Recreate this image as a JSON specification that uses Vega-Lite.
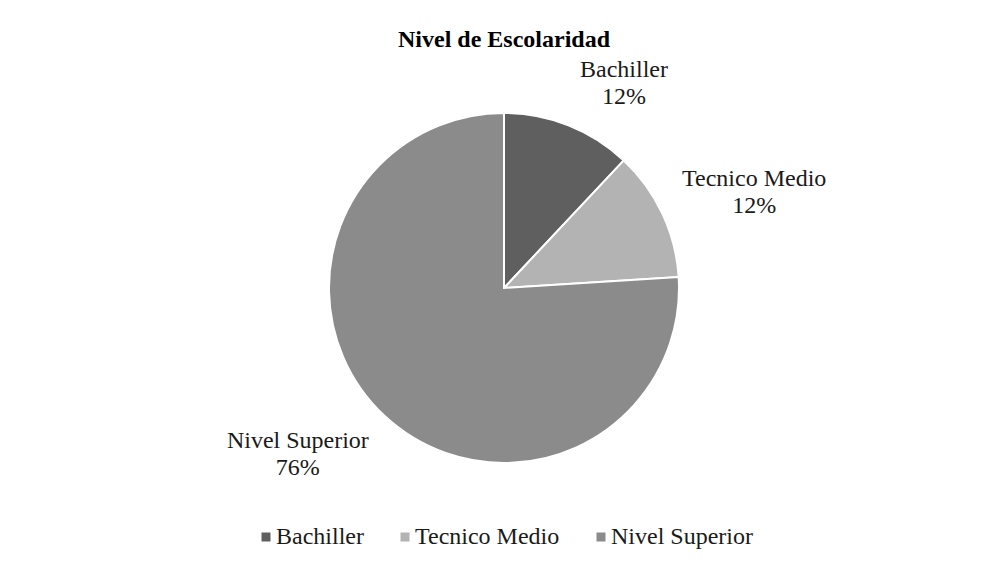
{
  "$schema": "https://vega.github.io/schema/vega-lite/v6.json",
  "width": 966,
  "height": 550,
  "autosize": {"type": "none"},
  "padding": {"left": 21, "top": 13, "right": 0, "bottom": 0},
  "background": "white",
  "view": {"stroke": null},
  "title": {
    "text": "Nivel de Escolaridad",
    "font": "Liberation Serif",
    "fontSize": 24,
    "fontWeight": "bold",
    "color": "#000000",
    "anchor": "middle",
    "offset": -39
  },
  "data": {
    "values": [
      {"nivel": "Bachiller", "pct": 12, "orden": 1},
      {"nivel": "Tecnico Medio", "pct": 12, "orden": 2},
      {"nivel": "Nivel Superior", "pct": 76, "orden": 3}
    ]
  },
  "transform": [
    {"calculate": "datum.nivel + '\\n' + datum.pct + '%'", "as": "etiqueta"}
  ],
  "encoding": {
    "theta": {"field": "pct", "type": "quantitative", "stack": true},
    "order": {"field": "orden", "type": "quantitative"}
  },
  "layer": [
    {
      "mark": {"type": "arc", "outerRadius": 175, "stroke": "white", "strokeWidth": 2},
      "encoding": {
        "color": {
          "field": "nivel",
          "type": "nominal",
          "scale": {
            "domain": ["Bachiller", "Tecnico Medio", "Nivel Superior"],
            "range": ["#5f5f5f", "#b3b3b3", "#8b8b8b"]
          },
          "legend": {
            "orient": "none",
            "legendX": 233,
            "legendY": 512,
            "direction": "horizontal",
            "title": null,
            "symbolType": "square",
            "symbolSize": 81,
            "symbolStrokeWidth": 0,
            "labelFont": "Liberation Serif",
            "labelFontSize": 24,
            "labelColor": "#1a1a1a",
            "labelOffset": -2,
            "columnPadding": 29,
            "labelLimit": 300
          }
        }
      }
    },
    {
      "mark": {
        "type": "text",
        "radius": 250,
        "font": "Liberation Serif",
        "fontSize": 24,
        "color": "#1a1a1a",
        "lineBreak": "\n",
        "lineHeight": 27,
        "align": "center",
        "baseline": "middle",
        "dx": {"expr": "datum.nivel == 'Bachiller' ? 28 : datum.nivel == 'Tecnico Medio' ? 24 : -35"},
        "dy": {"expr": "datum.nivel == 'Bachiller' ? 14 : datum.nivel == 'Tecnico Medio' ? -3 : -29"}
      },
      "encoding": {
        "text": {"field": "etiqueta", "type": "nominal"}
      }
    }
  ]
}
